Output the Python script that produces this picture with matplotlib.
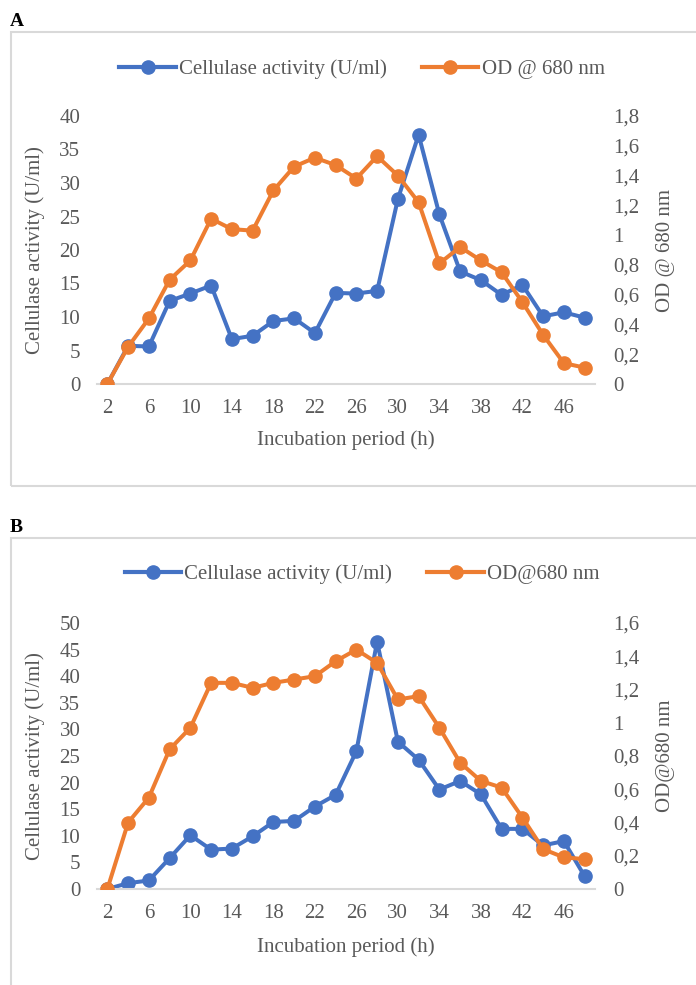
import matplotlib
matplotlib.use("Agg")
import matplotlib.pyplot as plt
from matplotlib.patches import Rectangle
from matplotlib.lines import Line2D
import numpy as np

plt.rcParams["font.family"] = ["Liberation Serif", "DejaVu Serif"]

BLUE = "#4472C4"
ORANGE = "#ED7D31"
GRID = "#D9D9D9"
TXT = "#595959"

# ── Data ──────────────────────────────────────────────────────────────────────
hours = [2, 4, 6, 8, 10, 12, 14, 16, 18, 20, 22, 24,
         26, 28, 30, 32, 34, 36, 38, 40, 42, 44, 46, 48]
tick_hours = [2, 6, 10, 14, 18, 22, 26, 30, 34, 38, 42, 46]

cell_a = [0, 5.7, 5.6, 12.4, 13.5, 14.7, 6.7, 7.2, 9.4, 9.8, 7.6, 13.6,
          13.5, 13.9, 27.6, 37.2, 25.3, 16.8, 15.5, 13.3, 14.8, 10.1, 10.7, 9.9]
od_a = [0, 0.25, 0.44, 0.70, 0.83, 1.11, 1.04, 1.03, 1.30, 1.46, 1.52, 1.47,
        1.38, 1.53, 1.40, 1.22, 0.81, 0.92, 0.83, 0.75, 0.55, 0.33, 0.14, 0.11]

cell_b = [0, 1.1, 1.6, 5.8, 10.1, 7.4, 7.6, 9.9, 12.6, 12.8, 15.5, 17.7,
          25.9, 46.5, 27.7, 24.3, 18.7, 20.3, 17.8, 11.3, 11.3, 8.2, 9.0, 2.4]
od_b = [0, 0.40, 0.55, 0.84, 0.97, 1.24, 1.24, 1.21, 1.24, 1.26, 1.28, 1.37,
        1.44, 1.36, 1.14, 1.16, 0.97, 0.76, 0.65, 0.61, 0.43, 0.24, 0.19, 0.18]

W, H = 696, 985
fig = plt.figure(figsize=(W / 100, H / 100), dpi=100)

FS = 15


def fx(px):
    return px / W


def fy(py):
    return 1 - py / H


def comma(v):
    s = f"{v:.1f}".replace(".", ",")
    return s[:-2] if s.endswith(",0") else s


def panel(letter, top_px, box_bottom_px, ax_top_px, ax_bot_px, cell, od,
          lmax, rmax, od_label, xlab_px, leg_y_px):
    # light frame around each chart
    fig.patches.append(Rectangle((fx(11), fy(box_bottom_px)), 1.2,
                                 fy(top_px) - fy(box_bottom_px),
                                 transform=fig.transFigure, fill=False,
                                 edgecolor=GRID, linewidth=1.5, clip_on=False))
    fig.text(fx(10), fy(top_px - 11), letter, fontsize=14, fontweight="bold",
             va="center", ha="left")

    ax = fig.add_axes([fx(97), fy(ax_bot_px), fx(595) - fx(97),
                       fy(ax_top_px) - fy(ax_bot_px)])
    ax2 = ax.twinx()
    ax.plot(hours, cell, color=BLUE, lw=2.9, marker="o", ms=9.5,
            solid_joinstyle="round")
    ax2.plot(hours, od, color=ORANGE, lw=2.9, marker="o", ms=9.5,
             solid_joinstyle="round")

    ax.set_xlim(1, 49)
    ax.set_ylim(0, lmax)
    ax2.set_ylim(0, rmax)
    ax.set_yticks(np.arange(0, lmax + 0.01, 5))
    rt = np.arange(0, rmax + 0.001, 0.2)
    ax2.set_yticks(rt)
    ax2.set_yticklabels([comma(v) for v in rt])
    ax.set_xticks(tick_hours)

    for a in (ax, ax2):
        for s in a.spines.values():
            s.set_visible(False)
        a.tick_params(length=0, labelsize=FS, labelcolor=TXT)
    ax.spines["bottom"].set_visible(True)
    ax.spines["bottom"].set_color(GRID)
    ax.spines["bottom"].set_linewidth(1.5)
    ax.tick_params(axis="x", pad=11)
    ax.tick_params(axis="y", pad=12)
    ax2.tick_params(axis="y", pad=13)

    ax.set_ylabel("Cellulase activity (U/ml)", fontsize=FS, color=TXT, labelpad=10)
    ax2.set_ylabel(od_label, fontsize=FS, color=TXT, labelpad=12)
    fig.text(0.5 * (fx(97) + fx(595)), fy(xlab_px), "Incubation period (h)",
             fontsize=FS, color=TXT, ha="center", va="center")

    handles = [Line2D([], [], color=BLUE, lw=3, marker="o", ms=9.5),
               Line2D([], [], color=ORANGE, lw=3, marker="o", ms=9.5)]
    fig.legend(handles, ["Cellulase activity (U/ml)", od_label],
               loc="center", bbox_to_anchor=(fx(362), fy(leg_y_px)),
               ncol=2, frameon=False, fontsize=FS, handlelength=2.7,
               handletextpad=0.15, columnspacing=1.7, labelcolor=TXT)


panel("A", 32, 486, 116, 384, cell_a, od_a, 40, 1.8, "OD @ 680 nm", 440, 69)
panel("B", 538, 1100, 623, 889, cell_b, od_b, 50, 1.6, "OD@680 nm", 947, 574)

fig.savefig("out.png", dpi=100)
